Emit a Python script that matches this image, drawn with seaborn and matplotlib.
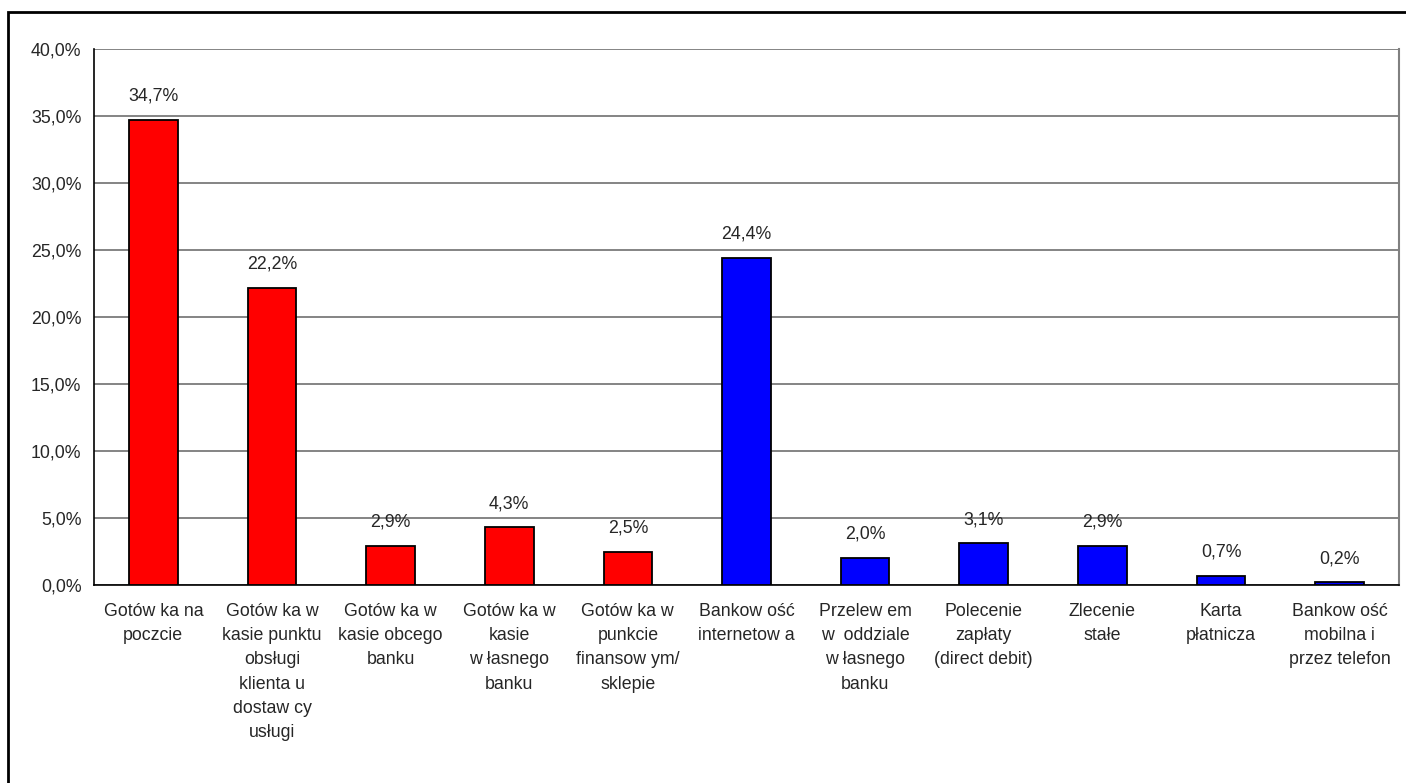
import matplotlib
matplotlib.use("Agg")
import matplotlib.pyplot as plt
import seaborn as sns
import pandas as pd
from matplotlib.patches import Rectangle
from matplotlib.ticker import FixedLocator, FuncFormatter

categories = [
    "Gotów ka na\npoczcie",
    "Gotów ka w\nkasie punktu\nobsługi\nklienta u\ndostaw cy\nusługi",
    "Gotów ka w\nkasie obcego\nbanku",
    "Gotów ka w\nkasie\nw łasnego\nbanku",
    "Gotów ka w\npunkcie\nfinansow ym/\nsklepie",
    "Bankow ość\ninternetow a",
    "Przelew em\nw  oddziale\nw łasnego\nbanku",
    "Polecenie\nzapłaty\n(direct debit)",
    "Zlecenie\nstałe",
    "Karta\npłatnicza",
    "Bankow ość\nmobilna i\nprzez telefon",
]
values = [34.7, 22.2, 2.9, 4.3, 2.5, 24.4, 2.0, 3.1, 2.9, 0.7, 0.2]
groups = ["cash"] * 5 + ["noncash"] * 6
yticks = [0, 5, 10, 15, 20, 25, 30, 35, 40]

sns.set_style("white")
plt.rcParams["font.family"] = ["Liberation Sans", "DejaVu Sans"]
FS = 12.8

df = pd.DataFrame({"cat": categories, "val": values, "grp": groups})

fig = plt.figure(figsize=(14.06, 7.83), dpi=100)
ax = fig.add_axes([94 / 1406, 1 - 585 / 783, (1399 - 94) / 1406, (585 - 49) / 783])

sns.barplot(data=df, x="cat", y="val", hue="grp", order=categories,
            palette={"cash": "#FF0000", "noncash": "#0000FF"}, dodge=False,
            saturation=1, width=0.41, edgecolor="black", linewidth=1.3,
            legend=False, ax=ax, zorder=3)

n = len(categories)
ax.set_xlim(-0.5, n - 0.5)
ax.set_ylim(0, 40)
ax.set_xlabel("")
ax.set_ylabel("")

ax.yaxis.set_major_locator(FixedLocator(yticks))
ax.yaxis.set_major_formatter(FuncFormatter(lambda v, p: f"{v:.1f}%".replace(".", ",")))
ax.grid(axis="y", color="#707070", linewidth=1.2, zorder=0)
ax.set_axisbelow(True)

# x ticks at category boundaries, labels at centres
ax.xaxis.set_major_locator(FixedLocator([i - 0.5 for i in range(n + 1)]))
ax.xaxis.set_major_formatter(FuncFormatter(lambda v, p: ""))
ax.xaxis.set_minor_locator(FixedLocator(list(range(n))))
ax.set_xticklabels(categories, minor=True, linespacing=1.55, fontsize=FS,
                   ha="center", va="top")
ax.tick_params(axis="x", which="major", direction="out", length=5, width=1, color="black")
ax.tick_params(axis="x", which="minor", length=0, pad=13)
ax.tick_params(axis="y", direction="out", length=5, width=1, color="black", labelsize=FS, pad=4)

for side in ["left", "bottom"]:
    ax.spines[side].set_color("black")
    ax.spines[side].set_linewidth(1.2)
ax.spines["right"].set_color("#808080")
ax.spines["right"].set_linewidth(1.5)
ax.spines["top"].set_visible(False)

for cont in ax.containers:
    ax.bar_label(cont, labels=[f"{v:.1f}%".replace(".", ",") for v in cont.datavalues],
                 padding=11, fontsize=FS)

# outer chart frame
fig.patches.append(Rectangle((8 / 1406, -0.1), 1.2, 1.1 - 12 / 783,
                             transform=fig.transFigure, fill=False,
                             edgecolor="black", linewidth=2))

fig.savefig("out.png", dpi=100)
